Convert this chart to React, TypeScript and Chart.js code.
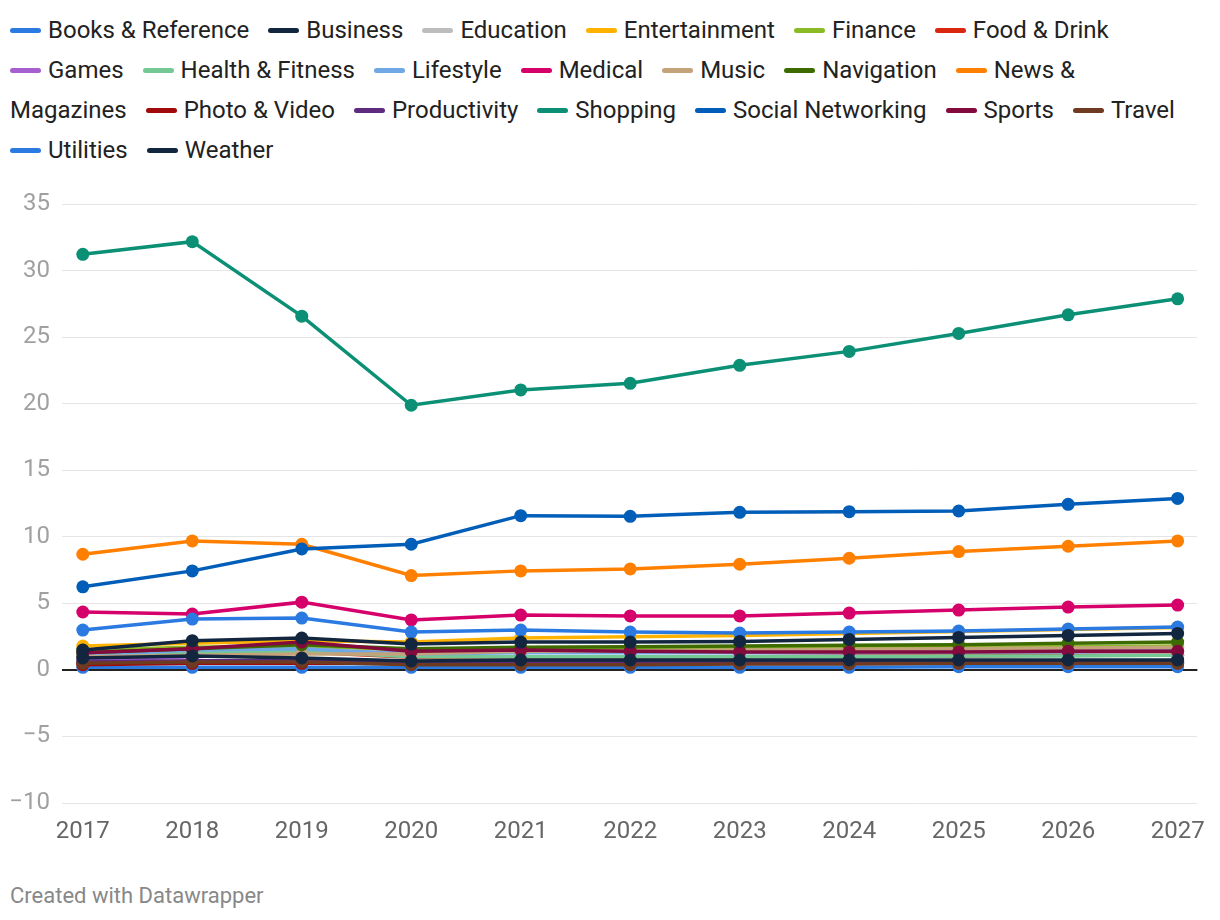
import React, { useEffect, useRef } from "react";
import { Chart, registerables } from "chart.js";

Chart.register(...registerables);

const years = [2017, 2018, 2019, 2020, 2021, 2022, 2023, 2024, 2025, 2026, 2027];
const yTicks = [-10, -5, 0, 5, 10, 15, 20, 25, 30, 35];

const seriesNames = [
  "Books & Reference", "Business", "Education", "Entertainment", "Finance", "Food & Drink",
  "Games", "Health & Fitness", "Lifestyle", "Medical", "Music", "Navigation", "News & Magazines",
  "Photo & Video", "Productivity", "Shopping", "Social Networking", "Sports", "Travel", "Utilities", "Weather",
];

const seriesColors = [
  "#2a7ae2", "#12263f", "#bdbdbd", "#ffb300", "#8bbb24", "#d9260f",
  "#a55fcf", "#73c894", "#6fa8e5", "#d6006b", "#c4a27a", "#3e6b00", "#ff8000",
  "#a10a0a", "#5e2b7e", "#0b9075", "#005eb8", "#820a3c", "#6e3a20", "#2a7ae2", "#12263f",
];

const booksReference = [0.2, 0.2, 0.2, 0.2, 0.2, 0.2, 0.2, 0.2, 0.25, 0.25, 0.25];
const business = [1.5, 2.2, 2.4, 1.95, 2.1, 2.1, 2.15, 2.3, 2.45, 2.6, 2.75];
const education = [1.2, 1.3, 1.4, 1.3, 1.4, 1.4, 1.45, 1.5, 1.55, 1.6, 1.65];
const entertainment = [1.8, 2.0, 2.2, 2.1, 2.4, 2.5, 2.6, 2.75, 2.9, 3.05, 3.2];
const finance = [1.5, 1.7, 1.8, 1.5, 1.55, 1.6, 1.6, 1.65, 1.7, 1.75, 1.8];
const foodDrink = [1.0, 1.3, 1.35, 0.95, 1.0, 1.0, 1.0, 1.05, 1.05, 1.1, 1.1];
const games = [0.7, 1.0, 1.3, 1.3, 1.35, 1.35, 1.35, 1.4, 1.4, 1.45, 1.45];
const healthFitness = [1.2, 1.3, 1.4, 1.0, 1.0, 1.0, 1.0, 1.0, 1.05, 1.05, 1.1];
const lifestyle = [1.1, 1.5, 1.6, 1.2, 1.3, 1.3, 1.3, 1.3, 1.35, 1.35, 1.4];
const medical = [4.36, 4.2, 5.1, 3.76, 4.13, 4.06, 4.06, 4.28, 4.5, 4.73, 4.88];
const music = [1.0, 1.1, 1.2, 1.2, 1.4, 1.45, 1.5, 1.55, 1.6, 1.65, 1.7];
const navigation = [1.3, 1.6, 1.9, 1.6, 1.7, 1.75, 1.8, 1.85, 1.9, 2.0, 2.1];
const newsMagazines = [8.7, 9.7, 9.45, 7.1, 7.45, 7.6, 7.95, 8.4, 8.9, 9.3, 9.7];
const photoVideo = [0.4, 0.5, 0.5, 0.5, 0.5, 0.5, 0.5, 0.5, 0.55, 0.55, 0.55];
const productivity = [0.6, 0.7, 0.7, 0.6, 0.6, 0.6, 0.6, 0.6, 0.6, 0.6, 0.65];
const shopping = [31.25, 32.2, 26.6, 19.9, 21.05, 21.55, 22.9, 23.95, 25.3, 26.7, 27.9];
const socialNetworking = [6.25, 7.45, 9.1, 9.45, 11.6, 11.55, 11.85, 11.9, 11.95, 12.45, 12.9];
const sports = [1.3, 1.6, 2.1, 1.4, 1.5, 1.4, 1.35, 1.35, 1.35, 1.4, 1.4];
const travel = [0.5, 0.6, 0.6, 0.4, 0.4, 0.4, 0.45, 0.45, 0.5, 0.5, 0.5];
const utilities = [3.0, 3.83, 3.9, 2.85, 3.0, 2.85, 2.78, 2.85, 2.93, 3.08, 3.23];
const weather = [0.9, 1.05, 0.9, 0.68, 0.75, 0.75, 0.75, 0.75, 0.75, 0.75, 0.75];

const seriesValues = [
  booksReference, business, education, entertainment, finance, foodDrink,
  games, healthFitness, lifestyle, medical, music, navigation, newsMagazines,
  photoVideo, productivity, shopping, socialNetworking, sports, travel, utilities, weather,
];

const FONT = "Roboto, 'Noto Sans', sans-serif";

export default function App() {
  const canvasRef = useRef<HTMLCanvasElement | null>(null);

  useEffect(() => {
    if (!canvasRef.current) return;
    const datasets = seriesNames.map((name, i) => ({
      label: name,
      data: years.map((yr, j) => ({ x: yr, y: seriesValues[i][j] })),
      borderColor: seriesColors[i],
      backgroundColor: seriesColors[i],
      pointBackgroundColor: seriesColors[i],
      pointBorderColor: seriesColors[i],
      pointRadius: 6.5,
      pointBorderWidth: 0,
      borderWidth: 3.5,
      tension: 0,
      order: name === "Weather" || name === "Business" ? 0 : 20 - i,
    }));
    const chart = new Chart(canvasRef.current, {
      type: "line",
      data: { datasets },
      options: {
        animation: false,
        responsive: false,
        maintainAspectRatio: false,
        layout: { padding: { top: 8, right: 22, bottom: 0, left: 0 } },
        plugins: { legend: { display: false }, tooltip: { enabled: false } },
        scales: {
          x: {
            type: "linear",
            min: 2016.81,
            max: 2027.18,
            afterBuildTicks: (scale: any) => {
              scale.ticks = years.map((v) => ({ value: v }));
            },
            afterFit: (scale: any) => {
              scale.height = 47;
            },
            grid: { display: false, drawTicks: false },
            border: { display: false },
            ticks: {
              padding: 15,
              color: "#666666",
              font: { family: FONT, size: 24 },
              callback: (v: any) => String(v),
              maxRotation: 0,
              autoSkip: false,
            },
          },
          y: {
            min: -10,
            max: 35,
            afterBuildTicks: (scale: any) => {
              scale.ticks = yTicks.map((v) => ({ value: v }));
            },
            afterFit: (scale: any) => {
              scale.width = 62;
            },
            grid: {
              drawTicks: false,
              color: (ctx: any) => (ctx.tick && ctx.tick.value === 0 ? "#222222" : "#e5e5e5"),
              lineWidth: (ctx: any) => (ctx.tick && ctx.tick.value === 0 ? 2 : 1),
            },
            border: { display: false },
            ticks: {
              padding: 12,
              color: "#a0a0a0",
              font: { family: FONT, size: 24 },
              callback: (v: any) => (v < 0 ? "\u2212" + Math.abs(v) : String(v)),
            },
          },
        },
      },
    });
    return () => chart.destroy();
  }, []);

  return (
    <div style={{ position: "absolute", left: 0, top: 0, width: 1220, height: 920, background: "#fff", fontFamily: FONT, overflow: "hidden" }}>
      <div style={{ position: "absolute", left: 10, top: 10, width: 1205, fontSize: 24, lineHeight: "40px", color: "#222" }}>
        {seriesNames.map((name, i) => {
          const sp = name.indexOf(" ");
          const first = sp < 0 ? name : name.slice(0, sp);
          const rest = sp < 0 ? "" : name.slice(sp);
          return (
            <span key={name} style={{ marginRight: 19 }}>
              <span style={{ whiteSpace: "nowrap" }}>
                <span style={{ display: "inline-block", width: 31, height: 5, borderRadius: 3, background: seriesColors[i], verticalAlign: "middle", marginRight: 7, position: "relative", top: -1 }} />
                {first}
              </span>
              {rest}
            </span>
          );
        })}
      </div>
      <canvas ref={canvasRef} width={1220} height={672} style={{ position: "absolute", left: 0, top: 178, width: 1220, height: 672 }} />
      <div style={{ position: "absolute", left: 10, top: 882, fontSize: 22, color: "#888", lineHeight: "28px" }}>Created with Datawrapper</div>
    </div>
  );
}
